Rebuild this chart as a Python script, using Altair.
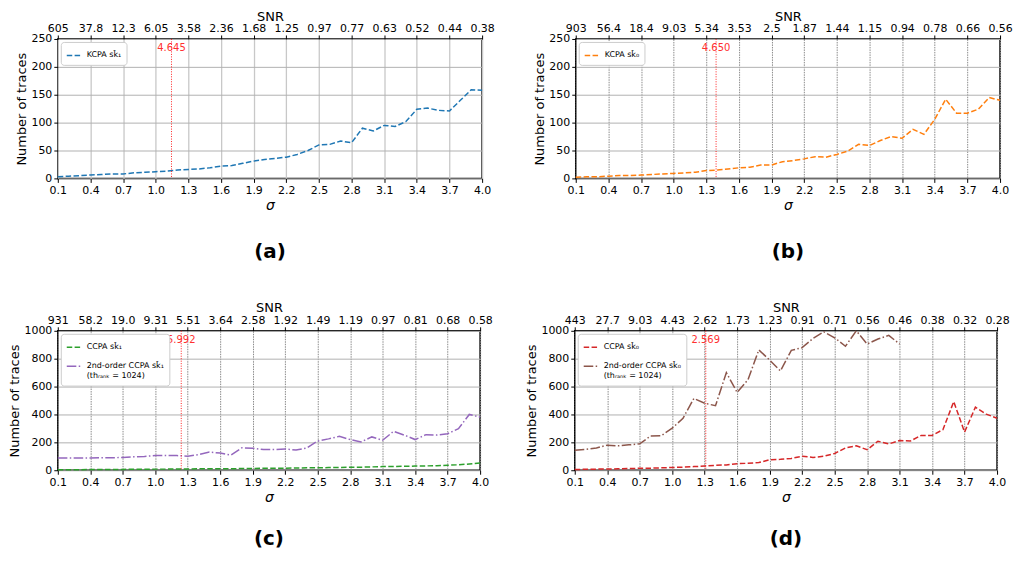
import json
import altair as alt
import pandas as pd

# ---------------- data ----------------
sigma = [0.1, 0.2, 0.3, 0.4, 0.5, 0.6, 0.7, 0.8, 0.9, 1.0,
         1.1, 1.2, 1.3, 1.4, 1.5, 1.6, 1.7, 1.8, 1.9, 2.0,
         2.1, 2.2, 2.3, 2.4, 2.5, 2.6, 2.7, 2.8, 2.9, 3.0,
         3.1, 3.2, 3.3, 3.4, 3.5, 3.6, 3.7, 3.8, 3.9, 4.0]
tick_vals = [0.1, 0.4, 0.7, 1.0, 1.3, 1.6, 1.9, 2.2, 2.5, 2.8, 3.1, 3.4, 3.7, 4.0]

kcpa_sk1 = [3, 4, 5, 6, 7, 8, 8, 10, 11, 12, 13, 15, 16, 17, 19, 22, 23, 27, 31, 34,
            36, 38, 43, 50, 60, 61, 67, 64, 90, 85, 95, 93, 102, 124, 126, 122, 121, 140, 159, 158]
kcpa_sk0 = [2, 3, 3, 4, 5, 5, 6, 7, 8, 9, 10, 11, 14, 15, 17, 19, 20, 24, 24, 30,
            32, 35, 39, 38, 43, 49, 61, 59, 68, 75, 72, 88, 79, 106, 142, 117, 117, 124, 145, 140]
ccpa_sk1 = [3, 4, 4, 5, 5, 6, 6, 7, 7, 8, 8, 9, 9, 10, 10, 11, 11, 12, 13, 14,
            14, 15, 16, 17, 18, 19, 20, 21, 22, 24, 26, 27, 28, 30, 31, 33, 36, 39, 45, 52]
ccpa2_sk1 = [88, 88, 88, 88, 89, 90, 91, 96, 99, 105, 106, 105, 101, 112, 130, 123, 109, 161, 158, 148,
             148, 153, 145, 160, 210, 225, 243, 220, 203, 239, 215, 279, 252, 220, 255, 252, 262, 298, 400, 381]
ccpa_sk0 = [5, 7, 8, 9, 10, 12, 14, 15, 17, 20, 22, 26, 30, 35, 38, 47, 50, 55, 75, 78,
            85, 100, 92, 100, 120, 160, 175, 147, 208, 189, 213, 210, 250, 250, 291, 492, 274, 452, 402, 373]
ccpa2_sk0 = [144, 150, 160, 180, 175, 182, 189, 246, 248, 302, 373, 515, 480, 463, 700, 558, 650, 863, 790, 712,
             860, 879, 945, 993, 950, 889, 1000, 905, 941, 967, 905]

snr_a = ["605", "37.8", "12.3", "6.05", "3.58", "2.36", "1.68", "1.25", "0.97", "0.77", "0.63", "0.52", "0.44", "0.38"]
snr_b = ["903", "56.4", "18.4", "9.03", "5.34", "3.53", "2.5", "1.87", "1.44", "1.15", "0.94", "0.78", "0.66", "0.56"]
snr_c = ["931", "58.2", "19.0", "9.31", "5.51", "3.64", "2.58", "1.92", "1.49", "1.19", "0.97", "0.81", "0.68", "0.58"]
snr_d = ["443", "27.7", "9.03", "4.43", "2.62", "1.73", "1.23", "0.91", "0.71", "0.56", "0.46", "0.38", "0.32", "0.28"]

vline_sigma = {"a": 1.145, "b": 1.39, "c": 1.24, "d": 1.31}
vline_label = {"a": "4.645", "b": "4.650", "c": "5.992", "d": "2.569"}

name_a = ["KCPA sk\u0302\u2081"]
name_b = ["KCPA sk\u0302\u2080"]
name_c = ["CCPA sk\u0302\u2081", "2nd-order CCPA sk\u0302\u2081|      (th\u1d63\u2090\u2099\u2096 = 1024)"]
name_d = ["CCPA sk\u0302\u2080", "2nd-order CCPA sk\u0302\u2080|      (th\u1d63\u2090\u2099\u2096 = 1024)"]

DASH = [5.5, 2.4]
DASHDOT = [9.6, 2.4, 1.5, 2.4]
FONT = "DejaVu Sans"


def make_df(names, series):
    rows = []
    for n, vals in zip(names, series):
        for s, v in zip(sigma, vals):
            rows.append({"sigma": s, "value": v, "series": n})
    return pd.DataFrame(rows)


def panel(names, series, colors, dashes, ydom, yvals, snr, key, solid_vgrid, w, h, toff):
    df = make_df(names, series)
    xscale = alt.Scale(domain=[0.1, 4.0], nice=False, zero=False)
    if solid_vgrid:
        gkw = dict(gridColor="#c8c8c8", gridWidth=1.3)
    else:
        gkw = dict(gridColor="#8a8a8a", gridWidth=1, gridDash=[1.5, 1])
    leg = alt.Legend(title=None, orient="top-left", offset=3, padding=5,
                     fillColor="white", strokeColor="#cccccc", cornerRadius=3,
                     symbolType="stroke", symbolSize=225, symbolStrokeWidth=1.5,
                     labelFont=FONT, labelFontSize=8, labelColor="black",
                     labelExpr="split(datum.label, '|')", labelLimit=300,
                     rowPadding=6)
    lines = alt.Chart(df).mark_line(strokeWidth=1.5).encode(
        x=alt.X("sigma:Q", scale=xscale,
                axis=alt.Axis(orient="bottom", values=tick_vals, format=".1f",
                              labelOverlap=False, labelFlush=False,
                              title="\u03c3", titleFontStyle="italic", titleFontSize=14,
                              titleFontWeight="normal", titlePadding=3, **gkw)),
        y=alt.Y("value:Q", scale=alt.Scale(domain=ydom, nice=False),
                axis=alt.Axis(values=yvals, format="d", title="Number of traces", titleFontSize=13,
                              labelOverlap=False, labelFlush=False,
                              titleFontWeight="normal", titlePadding=2,
                              gridColor="#b0b0b0", gridWidth=1)),
        color=alt.Color("series:N", scale=alt.Scale(domain=names, range=colors), legend=leg),
        strokeDash=alt.StrokeDash("series:N", scale=alt.Scale(domain=names, range=dashes), legend=leg),
        order="sigma:Q",
    )
    ann = pd.DataFrame({"sigma": [vline_sigma[key]], "label": [vline_label[key]]})
    expr = json.dumps(snr) + "[round((datum.value - 0.1) / 0.3)]"
    rule = alt.Chart(ann).mark_rule(color="#ff2020", strokeDash=[1, 1.5], strokeWidth=1).encode(
        x=alt.X("sigma:Q", scale=xscale,
                axis=alt.Axis(orient="top", values=tick_vals, labelExpr=expr, title="SNR",
                              labelOverlap=False, labelFlush=False, labelPadding=1,
                              titleFontSize=13, titleFontWeight="normal", titlePadding=0,
                              grid=False)),
    )
    txt = alt.Chart(ann).mark_text(color="#ff3030", fontSize=10, font=FONT, baseline="middle").encode(
        x=alt.X("sigma:Q", scale=xscale, axis=None),
        y=alt.value(9),
        text="label:N",
    )
    return alt.layer(lines, rule, txt).properties(
        width=w, height=h,
        title=alt.TitleParams("(" + key + ")", orient="bottom", fontSize=20, fontWeight="bold",
                              font=FONT, offset=toff, anchor="middle"),
    )


pa = panel(name_a, [kcpa_sk1], ["#1f77b4"], [DASH], [0, 250], [0, 50, 100, 150, 200, 250],
           snr_a, "a", True, 426, 140, 30)
pb = panel(name_b, [kcpa_sk0], ["#ff7f0e"], [DASH], [0, 250], [0, 50, 100, 150, 200, 250],
           snr_b, "b", False, 426, 140, 30)
pc = panel(name_c, [ccpa_sk1, ccpa2_sk1], ["#2ca02c", "#9467bd"], [DASH, DASHDOT], [0, 1000],
           [0, 200, 400, 600, 800, 1000], snr_c, "c", False, 424, 140, 25)
pd_ = panel(name_d, [ccpa_sk0, ccpa2_sk0], ["#d62728", "#8c564b"], [DASH, DASHDOT], [0, 1000],
            [0, 200, 400, 600, 800, 1000], snr_d, "d", False, 424, 140, 25)

row1 = alt.hconcat(pa, pb, spacing=38).resolve_scale(color="independent", strokeDash="independent", y="independent")
row2 = alt.hconcat(pc, pd_, spacing=32).resolve_scale(color="independent", strokeDash="independent", y="independent")

chart = alt.vconcat(row1, row2, spacing=38).resolve_scale(
    color="independent", strokeDash="independent", y="independent"
).properties(
    padding={"left": 0, "top": 0, "right": 0, "bottom": 0}
).configure(font=FONT).configure_view(
    stroke="black", strokeWidth=1.5
).configure_axis(
    domain=False, tickColor="black", tickSize=4, tickWidth=1, labelFontSize=11,
    labelColor="black", titleColor="black", labelFont=FONT, titleFont=FONT, labelPadding=2,
)

chart.save("out.html", embed_options={"renderer": "svg", "actions": False})
